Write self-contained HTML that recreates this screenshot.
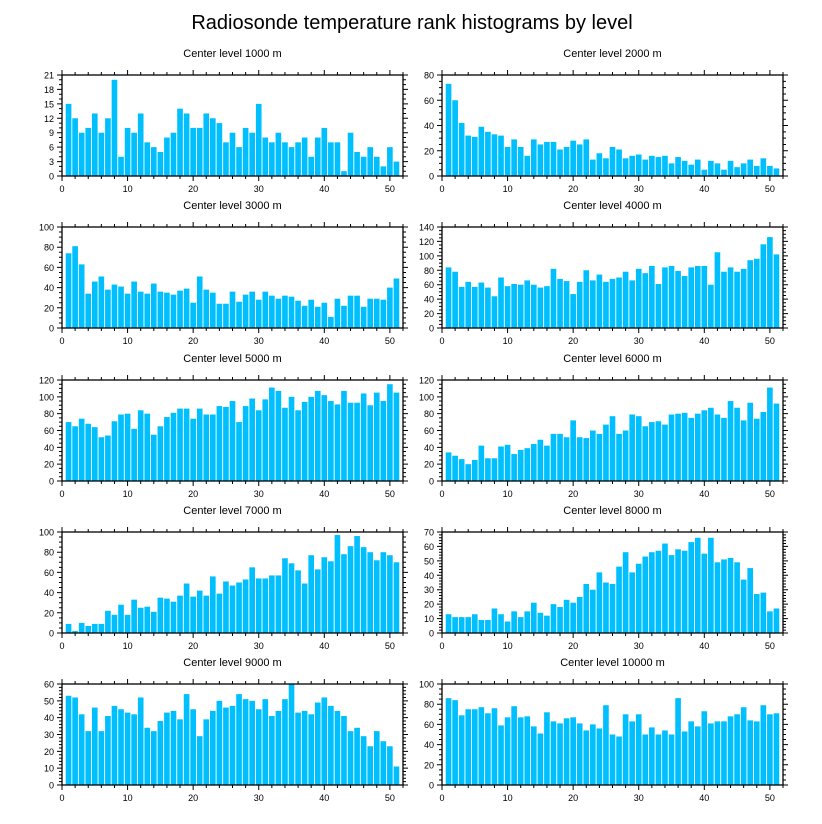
<!DOCTYPE html>
<html><head><meta charset="utf-8"><style>
body{margin:0;background:#fff;width:822px;height:824px;overflow:hidden}
svg{display:block}
text{font-family:"Liberation Sans",Arial,sans-serif;fill:#000}
</style></head><body>
<svg id="chart" width="822" height="824" viewBox="0 0 822 824">
<text x="412" y="29" font-size="20" text-anchor="middle">Radiosonde temperature rank histograms by level</text>
</svg>
<script>
const levels = ["1000","2000","3000","4000","5000","6000","7000","8000","9000","10000"];
const yMaxes = [21,80,100,140,120,120,100,70,60,100];
const yMajorSteps = [3,20,20,20,20,20,20,10,10,20];
const yMinorSteps = [1,5,5,5,5,5,5,2,2,5];
const xTicks = [0,10,20,30,40,50];
const v1000 = [15,12,9,10,13,9,12,20,4,10,9,13,7,6,5,8,9,14,13,10,10,13,12,11,7,9,6,10,9,15,8,7,9,7,6,7,8,4,8,10,7,7,1,9,5,4,6,4,2,6,3];
const v2000 = [73,60,42,32,31,39,35,33,32,23,29,23,16,29,25,27,27,21,23,28,25,29,13,18,14,23,21,14,16,17,13,16,15,16,10,15,12,9,13,5,12,10,5,12,7,10,13,8,14,8,6];
const v3000 = [74,81,63,34,46,51,38,43,41,34,46,36,34,44,36,35,33,37,39,25,51,38,35,24,24,36,26,33,36,28,36,32,29,32,31,27,22,28,21,25,11,29,22,32,32,21,29,29,28,40,49];
const v4000 = [84,78,57,64,57,63,56,44,70,58,61,60,66,60,56,58,82,68,65,47,64,80,66,74,64,68,70,78,66,82,76,86,61,84,86,79,72,84,86,86,60,105,78,84,78,82,94,96,116,126,102];
const v5000 = [70,65,74,68,64,52,54,71,79,80,62,84,80,55,65,76,81,86,86,74,86,79,79,89,88,95,70,89,98,84,97,111,107,87,100,84,94,100,107,102,95,91,107,93,93,104,90,105,95,115,105];
const v6000 = [34,30,26,20,25,42,27,27,41,43,32,37,39,44,49,42,56,56,52,72,52,51,60,56,67,77,56,60,79,77,65,70,71,67,79,80,81,75,80,84,87,79,75,95,87,72,93,74,82,111,92];
const v7000 = [9,2,10,7,9,9,22,18,28,18,33,25,26,21,35,34,31,37,49,36,42,37,56,39,51,47,50,53,65,54,54,57,57,74,69,62,49,77,63,75,71,97,78,86,96,85,80,72,80,77,70];
const v8000 = [13,11,11,11,13,9,9,17,13,8,15,11,15,21,14,12,20,18,23,21,25,34,30,42,35,34,46,56,42,48,53,56,57,62,54,58,57,63,66,55,66,49,51,52,49,37,45,27,28,15,17];
const v9000 = [53,52,42,32,46,32,41,47,45,43,42,52,34,32,38,43,44,39,54,45,29,39,44,50,46,47,54,51,50,45,51,41,44,51,60,43,44,42,49,52,47,44,41,32,34,29,23,32,26,23,11];
const v10000 = [86,84,69,75,75,77,71,76,59,67,78,67,68,58,51,72,63,61,66,67,61,54,60,56,79,50,48,70,63,70,50,57,50,54,50,86,53,63,58,73,61,63,63,68,70,77,64,63,79,70,71];
const series = [v1000,v2000,v3000,v4000,v5000,v6000,v7000,v8000,v9000,v10000];

const NS="http://www.w3.org/2000/svg";
const svg=document.getElementById('chart');
function mk(tag,attrs,parent){const e=document.createElementNS(NS,tag);for(const k in attrs)e.setAttribute(k,attrs[k]);parent.appendChild(e);return e;}
const colX=[62,442], rowY=[75,227,380,532,684], PW=341, PH=101, XMAX=52;

series.forEach((vals,i)=>{
  const x0=colX[i%2], y0=rowY[Math.floor(i/2)];
  const g=mk('g',{},svg);
  
  
  const sx=v=>x0+v/XMAX*PW, sy=v=>y0+PH-v/yMaxes[i]*PH;
  const t=mk('text',{x:x0+PW/2,y:y0-18,'font-size':11,'text-anchor':'middle'},g);
  t.textContent='Center level '+levels[i]+' m';
  
  
  const bw=0.86*PW/XMAX;
  vals.forEach((v,j)=>{
    const r=mk('rect',{x:sx(j+1)-bw/2,y:sy(v),width:bw,height:sy(0)-sy(v),fill:'#00BFFF'},g);
    
    
  });
  const f=mk('rect',{x:x0,y:y0,width:PW,height:PH,fill:'none',stroke:'#000','stroke-width':1.3},g);
  
  
  let d='';
  for(let v=0;v<=XMAX;v+=2){const L=(v%10===0)?5:3;const X=sx(v);d+=`M${X},${y0+PH}v${L}M${X},${y0}v${-L}`;}
  for(let v=0;v<=yMaxes[i]+1e-9;v+=yMinorSteps[i]){const L=(Math.abs(v/yMajorSteps[i]-Math.round(v/yMajorSteps[i]))<1e-6)?5:3;const Y=sy(v);d+=`M${x0},${Y}h${-L}M${x0+PW},${Y}h${L}`;}
  const tk=mk('path',{d:d,stroke:'#000','stroke-width':1,fill:'none'},g);
  
  
  xTicks.forEach(v=>{const l=mk('text',{x:sx(v),y:y0+PH+16,'font-size':9,'text-anchor':'middle'},g);l.textContent=v;
    
    });
  for(let v=0;v<=yMaxes[i];v+=yMajorSteps[i]){const l=mk('text',{x:x0-8,y:sy(v)+3.5,'font-size':9,'text-anchor':'end'},g);l.textContent=v;
    
    }
});
</script>
</body></html>
